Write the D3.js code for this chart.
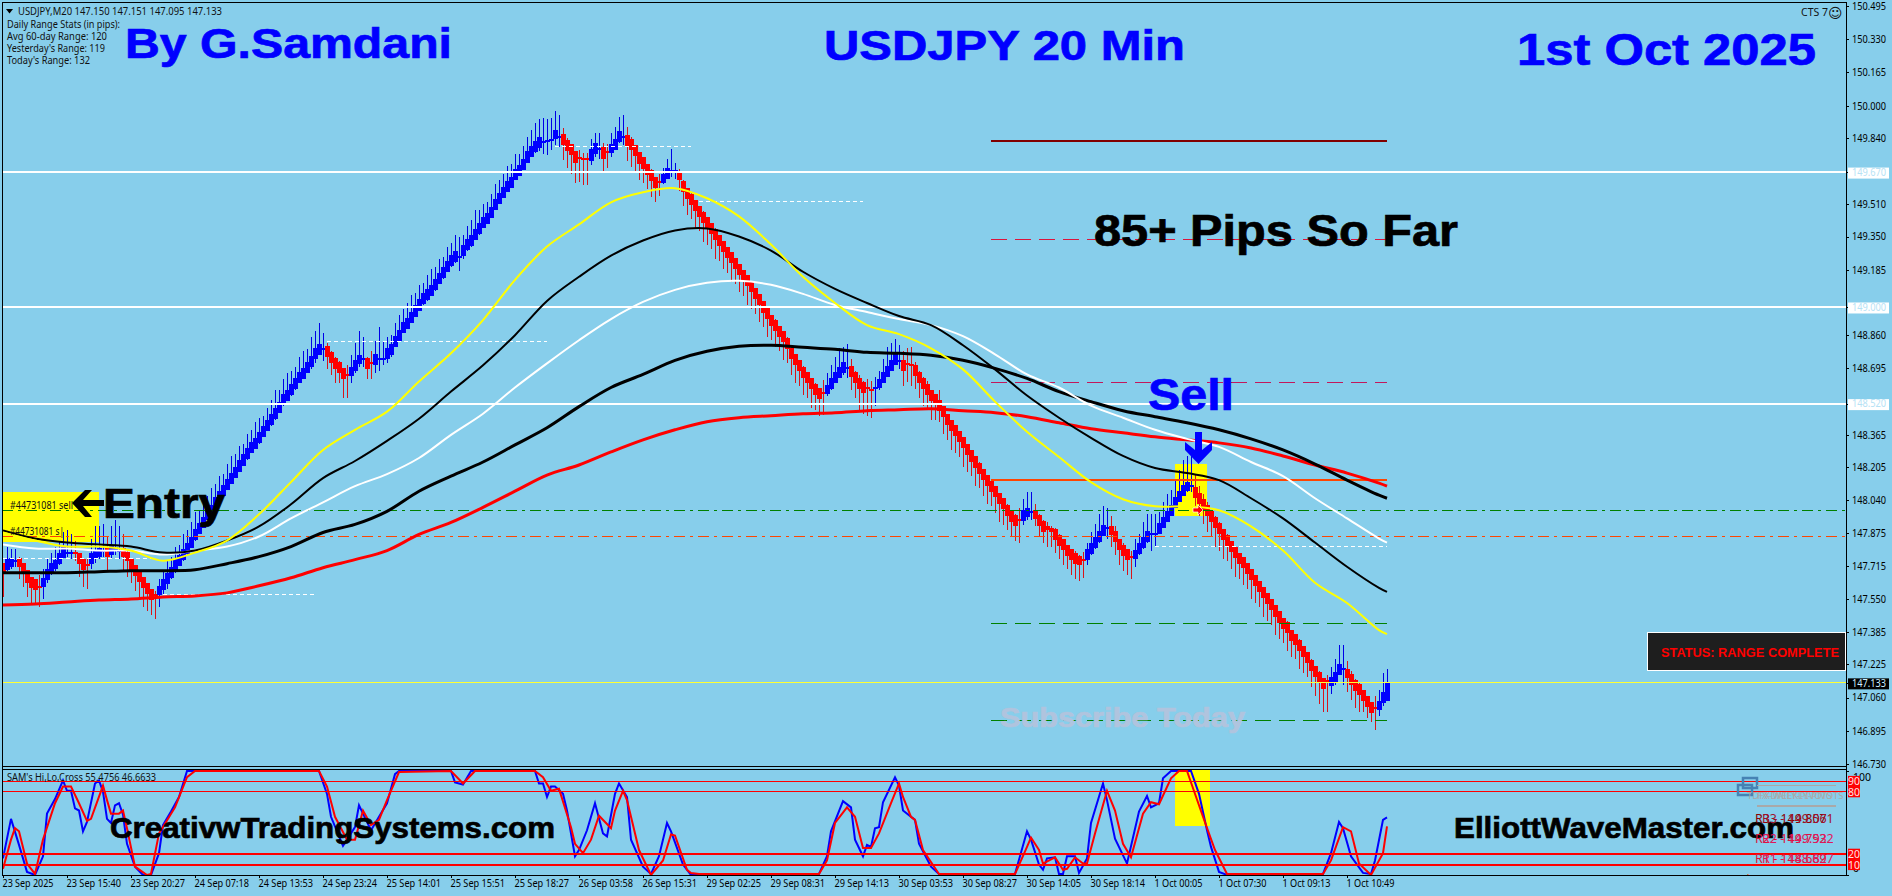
<!DOCTYPE html>
<html><head><meta charset="utf-8">
<style>
html,body{margin:0;padding:0;background:#87ceeb;overflow:hidden}
svg{display:block}
.small{font-family:"Noto Sans",sans-serif;font-size:10.5px;fill:#111}
.big{font-family:"Liberation Sans",Arial,sans-serif;font-weight:bold}
.axis text{font-family:"Noto Sans",sans-serif;font-size:10.5px;fill:#000}
.axis path{stroke:none}
.axis line{stroke:#000;shape-rendering:crispEdges}
</style></head><body>
<script src="https://cdn.jsdelivr.net/npm/d3@7"></script>
<script>
// ---------- data: USDJPY M20 ----------
const barMid=[
147.70,147.72,147.73,147.74,147.73,147.70,147.66,147.63,147.62,147.61,
147.63,147.67,147.70,147.72,147.75,147.78,147.78,147.78,147.78,147.75,
147.72,147.72,147.75,147.77,147.78,147.79,147.78,147.79,147.80,147.79,
147.78,147.76,147.72,147.69,147.66,147.63,147.60,147.57,147.57,147.59,
147.62,147.65,147.68,147.72,147.74,147.77,147.80,147.83,147.87,147.90,
147.93,147.97,147.99,148.03,148.06,148.09,148.12,148.15,148.18,148.21,
148.24,148.27,148.30,148.32,148.35,148.38,148.41,148.44,148.47,148.50,
148.54,148.56,148.59,148.62,148.65,148.67,148.70,148.73,148.77,148.79,
148.79,148.78,148.75,148.72,148.70,148.67,148.66,148.68,148.71,148.74,
148.74,148.72,148.72,148.74,148.74,148.74,148.77,148.79,148.83,148.86,
148.90,148.92,148.95,148.98,149.01,149.04,149.06,149.08,149.11,149.14,
149.17,149.20,149.23,149.25,149.25,149.28,149.31,149.33,149.36,149.39,
149.42,149.44,149.47,149.51,149.54,149.57,149.60,149.62,149.66,149.68,
149.71,149.745,149.77,149.795,149.815,149.82,149.825,149.83,149.855,149.845,
149.83,149.80,149.78,149.745,149.74,149.735,149.735,149.755,149.785,149.785,
149.765,149.77,149.785,149.805,149.845,149.845,149.825,149.805,149.775,149.74,
149.715,149.685,149.655,149.62,149.62,149.64,149.665,149.675,149.675,149.655,
149.60,149.565,149.535,149.505,149.475,149.445,149.42,149.39,149.36,149.33,
149.30,149.27,149.245,149.215,149.185,149.155,149.13,149.10,149.065,149.035,
149.00,148.97,148.935,148.91,148.88,148.855,148.82,148.77,148.74,148.71,
148.675,148.65,148.62,148.59,148.57,148.575,148.59,148.62,148.65,148.675,
148.70,148.695,148.68,148.65,148.62,148.60,148.60,148.59,148.60,148.62,
148.65,148.68,148.71,148.74,148.73,148.71,148.715,148.71,148.685,148.65,
148.62,148.59,148.56,148.54,148.51,148.48,148.44,148.41,148.385,148.355,
148.325,148.29,148.26,148.23,148.20,148.17,148.14,148.11,148.085,148.05,
148.025,147.99,147.96,147.94,147.94,147.965,147.98,147.98,147.97,147.94,
147.91,147.90,147.89,147.87,147.84,147.82,147.79,147.77,147.75,147.74,
147.745,147.77,147.80,147.83,147.86,147.89,147.90,147.89,147.86,147.82,
147.79,147.77,147.76,147.77,147.80,147.83,147.86,147.87,147.87,147.90,
147.93,147.96,147.99,148.03,148.06,148.09,148.11,148.11,148.08,148.05,
148.02,147.99,147.96,147.93,147.90,147.87,147.84,147.81,147.78,147.75,
147.73,147.70,147.67,147.64,147.61,147.58,147.55,147.52,147.49,147.46,
147.43,147.41,147.37,147.35,147.32,147.29,147.26,147.22,147.19,147.16,
147.13,147.14,147.14,147.16,147.20,147.20,147.18,147.15,147.12,147.10,
147.07,147.04,147.01,147.01,147.02,147.06,147.09];
// signed body size in 0.01 yen: plus = rising bar, minus = falling bar
const barBody=[
-4,4,3,1,-3,-4,-5,-4,-4,-1,
3,4,4,3,4,4,1,1,-1,-4,
-4,-1,4,3,3,1,-3,3,2,1,
-3,-3,-4,-4,-4,-4,-4,-4,-1,3,
4,4,4,4,4,4,4,4,4,4,
4,4,4,4,4,4,4,4,4,4,
4,4,4,4,4,4,4,4,4,4,
4,4,4,4,4,4,4,4,4,4,
1,-4,-4,-4,-4,-4,-1,3,4,3,
1,-4,-1,4,1,1,4,4,4,4,
4,4,4,4,4,4,4,4,4,4,
4,4,4,4,1,4,4,4,4,4,
4,4,4,4,4,4,4,4,4,4,
4,4,4,4,4,1,1,1,3,1,
-4,-4,-4,-4,-1,-1,-1,4,4,1,
-4,-1,3,4,4,1,-4,-4,-4,-4,
-4,-4,-4,-4,-1,3,4,1,1,-3,
-4,-4,-4,-4,-4,-4,-4,-4,-4,-4,
-4,-4,-4,-4,-4,-4,-4,-4,-4,-4,
-4,-4,-4,-4,-4,-4,-4,-4,-4,-4,
-4,-4,-4,-4,-4,-1,3,4,4,4,
4,1,-4,-4,-4,-4,-1,-1,1,3,
4,4,4,4,1,-4,-1,-1,-4,-4,
-4,-4,-4,-4,-4,-4,-4,-4,-4,-4,
-4,-4,-4,-4,-4,-4,-4,-4,-4,-4,
-4,-4,-4,-4,-1,4,3,1,-3,-4,
-4,-2,-2,-4,-4,-4,-4,-4,-4,-3,
-1,4,4,4,4,4,1,-3,-4,-4,
-4,-4,-1,3,4,4,4,1,1,4,
4,4,4,4,4,4,3,1,-4,-4,
-4,-4,-4,-4,-4,-4,-4,-4,-4,-4,
-4,-4,-4,-4,-4,-4,-4,-4,-4,-4,
-4,-4,-4,-4,-4,-4,-4,-4,-4,-4,
-4,-1,3,4,4,1,-3,-4,-4,-4,
-4,-4,-4,-1,3,4,8];
const barWickUp=[
3,9,7,6,3,2,2,2,3,6,
7,8,8,9,9,10,11,9,6,3,
3,3,10,14,13,13,8,12,14,12,
9,4,3,3,2,2,2,3,2,6,
7,9,8,9,8,10,9,10,11,9,
10,9,11,9,10,8,10,11,9,10,
8,10,9,11,10,8,9,10,12,9,
10,11,9,8,10,11,9,12,11,13,
8,4,3,3,3,2,5,8,11,14,
11,3,6,9,16,9,8,7,9,10,
9,10,11,9,10,8,10,11,9,10,
8,10,9,11,10,8,9,10,12,9,
9,8,9,10,9,9,10,9,10,8,
9,10,11,12,12,12,11,11,12,11,
6,4,3,3,4,3,3,8,8,8,
5,4,8,9,10,11,7,4,3,3,
2,2,3,2,4,5,7,11,4,3,
3,2,3,2,2,3,2,2,3,2,
2,3,2,2,3,2,2,3,2,2,
3,2,2,3,2,2,3,3,2,2,
3,2,2,3,3,6,8,9,10,12,
10,12,6,3,4,3,4,4,5,6,
9,12,11,10,8,7,8,9,4,3,
3,4,3,3,8,2,2,3,2,2,
2,3,2,2,3,2,2,3,2,2,
2,3,2,3,6,8,10,10,5,3,
3,3,2,3,3,2,3,2,4,3,
4,6,8,9,11,12,10,7,5,3,
4,3,3,8,7,10,11,10,10,8,
10,11,10,11,13,15,15,16,9,6,
5,4,3,3,3,2,3,2,2,3,
2,2,3,2,2,3,2,2,3,2,
2,3,2,2,3,2,2,3,2,3,
2,3,7,9,12,12,6,4,3,3,
3,2,2,6,8,12,11];
const barWickDown=[
14,3,3,3,8,9,10,11,10,10,
8,4,3,3,3,2,2,3,4,9,
11,12,5,4,3,3,9,4,3,4,
9,10,9,10,11,12,11,10,12,8,
5,5,3,4,2,3,3,2,3,2,
3,2,2,3,2,3,2,2,3,2,
3,3,2,2,3,2,2,3,3,2,
3,2,3,3,2,3,2,4,5,3,
6,9,9,10,8,12,11,6,4,4,
4,8,8,7,6,3,5,4,3,3,
3,2,3,3,2,3,3,2,3,2,
3,2,3,3,7,4,3,3,2,3,
2,3,2,2,3,2,3,2,2,3,
2,3,2,3,4,6,7,5,5,5,
10,11,12,13,12,13,13,5,4,5,
9,8,4,2,3,4,10,11,10,11,
10,10,11,10,7,3,3,3,4,8,
10,11,10,12,10,12,11,10,12,10,
11,10,12,10,11,10,12,11,10,11,
10,12,10,11,10,12,10,11,12,10,
11,10,12,10,11,11,3,3,2,3,
4,5,9,10,13,13,14,14,9,3,
3,3,2,3,4,10,9,10,9,10,
11,10,12,10,8,11,10,12,11,10,
12,11,10,12,10,11,12,10,11,12,
11,10,10,10,11,5,4,4,6,8,
8,9,8,9,9,10,9,10,10,10,
9,5,3,3,3,2,5,8,9,10,
10,10,11,6,3,3,3,8,6,3,
2,3,3,2,3,2,3,3,8,9,
10,11,10,12,11,12,10,11,12,10,
11,10,12,11,10,12,11,10,12,11,
10,12,11,10,12,11,10,11,12,13,
14,15,6,4,3,8,9,10,11,11,
8,8,7,11,5,4,3];

// moving averages, read every eighth bar (last reading at the last bar)
const maBars=[0,8,16,24,32,40,48,56,64,72,80,88,96,104,112,120,128,136,144,152,160,168,176,184,192,200,208,216,224,232,240,248,256,264,272,280,288,296,304,312,320,328,336,344,346];
const maYellow=[147.88,147.84,147.81,147.81,147.79,147.74,147.78,147.84,147.97,148.13,148.29,148.39,148.48,148.63,148.77,148.935,149.135,149.30,149.41,149.52,149.57,149.59,149.54,149.45,149.31,149.15,149.02,148.91,148.865,148.795,148.69,148.53,148.38,148.255,148.13,148.045,148.01,148.01,147.99,147.91,147.79,147.63,147.53,147.395,147.375];
const maBlackFast=[147.89,147.85,147.83,147.82,147.81,147.78,147.79,147.84,147.91,148.02,148.15,148.235,148.335,148.445,148.58,148.71,148.86,149.03,149.15,149.255,149.33,149.38,149.39,149.35,149.28,149.175,149.09,149.02,148.955,148.91,148.81,148.69,148.56,148.45,148.35,148.26,148.20,148.175,148.14,148.05,147.95,147.83,147.71,147.605,147.585];
const maWhite=[147.82,147.80,147.80,147.79,147.79,147.77,147.79,147.81,147.86,147.95,148.03,148.11,148.17,148.25,148.365,148.47,148.60,148.72,148.835,148.94,149.025,149.085,149.12,149.13,149.11,149.065,149.01,148.975,148.94,148.91,148.855,148.765,148.665,148.60,148.51,148.45,148.39,148.345,148.305,148.23,148.16,148.05,147.95,147.85,147.83];
const maBlackSlow=[147.68,147.68,147.68,147.685,147.69,147.69,147.695,147.725,147.76,147.81,147.88,147.92,147.985,148.085,148.16,148.23,148.315,148.40,148.505,148.60,148.665,148.735,148.78,148.805,148.81,148.80,148.79,148.775,148.77,148.76,148.735,148.695,148.645,148.58,148.53,148.485,148.455,148.425,148.39,148.345,148.29,148.22,148.14,148.065,148.05];
const maRed=[147.52,147.525,147.535,147.545,147.55,147.56,147.565,147.58,147.615,147.655,147.705,147.745,147.79,147.87,147.93,148.005,148.085,148.165,148.215,148.28,148.34,148.39,148.43,148.45,148.46,148.47,148.475,148.485,148.49,148.495,148.485,148.475,148.455,148.425,148.395,148.375,148.355,148.34,148.325,148.30,148.26,148.215,148.175,148.125,148.11];

// SAM's Hi,Lo,Cross oscillator readings
const hiLoBars=[0,2,4,6,8,10,11,13,15,16,17,18,19,20,21,23,24,25,26,27,28,29,30,31,33,35,37,39,40,42,44,46,79,81,82,85,88,89,90,92,94,96,98,99,112,113,115,117,133,134,135,136,137,138,140,141,143,144,146,148,150,151,153,154,156,157,160,162,164,166,167,170,172,174,204,206,207,210,212,213,215,216,217,218,219,220,223,224,225,228,229,232,234,253,256,257,259,260,261,263,264,265,266,268,269,271,272,275,276,278,281,284,286,287,289,290,292,297,299,301,302,304,306,330,332,334,335,337,340,342,343,345,346];
const hiLoFast=[16,54,29,3,0,18,59,73,91,81,81,64,62,42,51,88,91,80,54,50,67,69,58,30,8,0,0,21,48,61,75,100,100,78,56,28,46,67,59,43,56,69,97,100,100,89,87,100,100,88,88,75,85,85,78,62,18,24,43,69,40,37,78,88,75,34,8,1,18,50,42,10,0,1,1,18,42,71,65,34,18,29,27,45,46,70,94,86,62,53,30,8,1,1,42,34,10,5,16,17,1,1,18,18,2,16,50,88,72,35,11,61,76,65,69,93,100,100,78,43,27,3,0,1,21,51,45,18,2,1,14,53,55.48];
const sigBars=[0,2,3,4,6,8,10,13,15,17,19,21,22,25,26,27,29,30,31,33,36,37,39,43,46,48,79,81,83,86,88,90,92,94,96,99,112,115,118,133,135,137,139,142,143,145,147,149,152,153,155,156,159,162,165,167,168,171,172,174,204,206,208,211,213,215,217,219,222,224,225,227,228,230,234,253,256,257,259,260,263,265,266,268,270,271,273,276,278,280,282,285,287,289,292,294,296,300,303,306,330,332,335,337,339,342,345,346];
const sigSlow=[6,34,45,42,11,1,34,69,85,85,69,52,54,86,72,59,59,62,45,8,0,1,40,65,94,100,100,85,56,34,34,62,48,53,72,99,100,88,100,100,94,81,83,46,30,21,34,57,45,62,81,72,24,0,14,39,38,5,2,1,1,14,50,65,56,26,26,40,69,88,75,56,53,24,1,1,27,36,24,11,17,5,6,17,11,11,40,81,62,30,17,59,70,68,93,100,100,56,24,1,1,14,46,42,11,0,21,46.66];
const hiLoLevels=[90,80,20,10];

// price levels
const whiteLevels=[149.67,149.00,148.52];
const pivotR3=149.825, pivotR2=149.335, pivotR1=148.625, entryLevel=148.14, pivotS1=147.43, pivotS2=146.945;
const tradeGreen=147.99, tradeOrange=147.86, lastPrice=147.133;
const dashLevels=[149.795,149.525,148.83,147.81,147.57,147.75];
const dashFrom=[138,174,81,288,40,0];
const dashTo=[172,215,136,346,78,38];

// axes
const priceTicks=[150.495,150.33,150.165,150,149.84,149.51,149.35,149.185,148.86,148.695,148.365,148.205,148.04,147.875,147.715,147.55,147.385,147.225,147.06,146.895,146.73];
const boxedTicks=[149.67,149.00,148.52];
const timeTickLabels=["23 Sep 2025","23 Sep 15:40","23 Sep 20:27","24 Sep 07:18","24 Sep 13:53","24 Sep 23:24","25 Sep 14:01","25 Sep 15:51","25 Sep 18:27","26 Sep 03:58","26 Sep 15:31","29 Sep 02:25","29 Sep 08:31","29 Sep 14:13","30 Sep 03:53","30 Sep 08:27","30 Sep 14:05","30 Sep 18:14","1 Oct 00:05","1 Oct 07:30","1 Oct 09:13","1 Oct 10:49"];
const timeTickBars=[0,16,32,48,64,80,96,112,128,144,160,176,192,208,224,240,256,272,288,304,320,336];

// ---------- drawing ----------
const W=1892,H=896,L=2,R=1846;
const svg=d3.select("body").append("svg").attr("width",W).attr("height",H);
svg.append("rect").attr("width",W).attr("height",H).attr("fill","#87ceeb");
const x=d3.scaleLinear().domain([0,346]).range([3,1387]);
const y=d3.scaleLinear().domain([146.73,150.495]).range([764,6]);
const yo=d3.scaleLinear().domain([0,100]).range([875,771]);
const barW=x(1)-x(0)+1;
const defs=svg.append("defs");
defs.append("clipPath").attr("id","mainClip").append("rect").attr("x",L).attr("y",2).attr("width",R-L).attr("height",765);
defs.append("clipPath").attr("id","subClip").append("rect").attr("x",L).attr("y",769).attr("width",R-L+50).attr("height",106);

// yellow highlight objects
const yHL=(x0,x1,y0,y1,g)=>g.append("rect").attr("x",x0).attr("y",y0).attr("width",x1-x0).attr("height",y1-y0).attr("fill","#ffff00");
yHL(3,99,492,542,svg);
yHL(1175,1207,464,516,svg);
yHL(1175,1210,770,826,svg);

const main=svg.append("g").attr("clip-path","url(#mainClip)");
// candles
const bars=barMid.map((m,i)=>({i,m,b:barBody[i],hi:m+barWickUp[i]/100,lo:m-barWickDown[i]/100,half:Math.abs(barBody[i])/200+(Math.abs(barBody[i])>=3?.0075:0)}));
main.append("g").attr("shape-rendering","crispEdges").selectAll("line").data(bars).join("line")
  .attr("x1",d=>Math.round(x(d.i))+.5).attr("x2",d=>Math.round(x(d.i))+.5)
  .attr("y1",d=>y(d.hi)).attr("y2",d=>y(d.lo))
  .attr("stroke",d=>d.b>0?"#0000e6":"#d8141a").attr("stroke-width",1);
main.append("g").attr("shape-rendering","crispEdges").selectAll("rect").data(bars).join("rect")
  .attr("x",d=>Math.round(x(d.i))-2).attr("width",barW)
  .attr("y",d=>y(d.m+d.half)).attr("height",d=>y(d.m-d.half)-y(d.m+d.half))
  .attr("fill",d=>d.b>0?"#0000ff":"#ff0000");

// horizontal levels
const hline=(g,p,a,b,col,sw,dash,xs)=>g.append("line").attr("x1",a).attr("x2",b)
  .attr("y1",(xs||y)(p)).attr("y2",(xs||y)(p)).attr("stroke",col).attr("stroke-width",sw).attr("stroke-dasharray",dash||null).attr("shape-rendering","crispEdges");
const levX0=x(247), levX1=x(346);
whiteLevels.forEach(p=>hline(main,p,L,R,"#ffffff",2));
hline(main,pivotR3,levX0,levX1,"#800000",2);
hline(main,pivotR2,levX0,levX1,"#dc143c",1,"16 8 ");
hline(main,pivotR1,levX0,levX1,"#c2185b",1,"16 8");
hline(main,entryLevel,levX0,levX1,"#ff4500",2);
hline(main,pivotS1,levX0,levX1,"#008000",1,"16 8");
hline(main,pivotS2,levX0,levX1,"#008000",1,"16 8");
hline(main,tradeGreen,L,R,"#008000",1,"11 5 3 5");
hline(main,tradeOrange,L,R,"#ff4500",1,"11 5 3 5");
hline(main,lastPrice,L,R,"#ffff33",1);
dashLevels.forEach((p,i)=>hline(main,p,x(dashFrom[i]),x(dashTo[i]),"#ffffff",1,"4 3"));

// moving averages
const maLine=d3.line().x((d,i)=>x(maBars[i])).y(d=>y(d)).curve(d3.curveCatmullRom.alpha(.5));
const maDefs=[[maRed,"#ff0000",3],[maBlackSlow,"#000000",3],[maWhite,"#ffffff",2],[maBlackFast,"#000000",2],[maYellow,"#ffff00",2]];
maDefs.forEach(([s,c,w])=>main.append("path").attr("d",maLine(s)).attr("fill","none").attr("stroke",c).attr("stroke-width",w));

// main panel texts
const tx=(g,t,px,py,size,col,len)=>g.append("text").attr("x",px).attr("y",py).attr("font-size",size).attr("fill",col).attr("class","big")
  .attr("textLength",len).attr("lengthAdjust","spacingAndGlyphs").attr("stroke",col).attr("stroke-width",.7).text(t);
tx(svg,"By G.Samdani",125,58,43,"#0000ff",327);
tx(svg,"USDJPY 20 Min",824,60,43,"#0000ff",361);
tx(svg,"1st Oct 2025",1517,65,44,"#0000ff",299);
tx(svg,"85+ Pips So Far",1094,246,44,"#000000",364);
tx(svg,"Sell",1148,410,44,"#0000ff",86);
tx(svg,"Entry",103,518,43,"#000000",122);
tx(svg,"Subscribe Today",1000,727,28,"#b0c4de",245);
// arrows
svg.append("path").attr("d","M72 503L85 490H92L83 500H104V506H83L92 517H85Z").attr("fill","#000");
svg.append("path").attr("d","M1195 432H1202V450L1212 442V450L1198.5 464L1185 450V442L1195 450Z").attr("fill","#0000ff");
// small red trade arrow
svg.append("path").attr("d","M1193 508h5v-3l5 5-5 5v-3h-5z").attr("fill","#ff0000").attr("stroke","#ffffff").attr("stroke-width",.7);

svg.append("path").attr("d","M6 9h7l-3.5 4.5z").attr("fill","#000");
const sm=(t,px,py,len)=>{const n=svg.append("text").attr("class","small").attr("x",px).attr("y",py).text(t);
  if(len)n.attr("textLength",len).attr("lengthAdjust","spacingAndGlyphs");return n;};
sm("USDJPY,M20  147.150 147.151 147.095 147.133",18,15,204);
sm("Daily Range Stats (in pips):",7,28,113);
sm("Avg 60-day Range: 120",7,40,100);
sm("Yesterday's Range: 119",7,52,98);
sm("Today's Range: 132",7,64,83);
sm("CTS 7",1801,16);
svg.append("text").attr("x",1828).attr("y",18).attr("font-family","DejaVu Sans").attr("font-size",14).attr("fill","#111").text("☺");
sm("#44731081 sell",10,509,63);
sm("#44731081 s|",10,535,54);

// status panel
svg.append("rect").attr("x",1647.5).attr("y",632.5).attr("width",198).attr("height",38).attr("fill","#1e1e1e").attr("stroke","#ffffff");
svg.append("text").attr("x",1661).attr("y",657).attr("font-family","Liberation Sans").attr("font-weight","bold").attr("font-size",12.5).attr("fill","#ff0000")
  .attr("textLength",178).attr("lengthAdjust","spacingAndGlyphs").text("STATUS: RANGE COMPLETE");

// oscillator
const sub=svg.append("g").attr("clip-path","url(#subClip)");
hline(svg,90,L,R,"#ff0000",1,null,yo);hline(svg,80,L,R,"#ff0000",1,null,yo);
hline(svg,20,L,R,"#ff0000",2,null,yo);hline(svg,10,L,R,"#ff0000",2,null,yo);
const hl1=d3.line().x((d,i)=>x(hiLoBars[i])).y(d=>yo(d));
const hl2=d3.line().x((d,i)=>x(sigBars[i])).y(d=>yo(d));
sub.append("path").attr("d",hl1(hiLoFast)).attr("fill","none").attr("stroke","#0000ff").attr("stroke-width",2);
sub.append("path").attr("d",hl2(sigSlow)).attr("fill","none").attr("stroke","#ff0000").attr("stroke-width",2);
sm("SAM's Hi,Lo,Cross 55.4756 46.6633",7,781,149);
tx(svg,"CreativwTradingSystems.com",110,838,30,"#000000",445);
tx(svg,"ElliottWaveMaster.com",1454,838,30,"#000000",340);

// pivots overlay
[[1743,778],[1738,785]].forEach(p=>svg.append("rect").attr("x",p[0]).attr("y",p[1]).attr("width",14).attr("height",10).attr("fill","none").attr("stroke","#4682b4").attr("stroke-width",2.5));
svg.append("line").attr("x1",1757).attr("x2",1836).attr("y1",785.5).attr("y2",785.5).attr("stroke","#a9a9a9");
svg.append("line").attr("x1",1757).attr("x2",1836).attr("y1",806).attr("y2",806).attr("stroke","#a9a9a9").attr("stroke-width",2);
const pv=(t,px,py,c,g)=>(g||svg).append("text").attr("x",px).attr("y",py).attr("font-family","Noto Sans").attr("font-size",12.5).attr("fill",c).text(t);
[["TDFX-WEEKLY-PIVOTS",1747],["FX-DAILY-PIVOTS",1757]].forEach(d=>svg.append("text").attr("x",d[1]).attr("y",799).attr("font-family","Noto Sans").attr("font-size",9.5).attr("fill","#a9a9a9").text(d[0]));
pv("R3 - 149.807",1755,823,"#8b0000");pv("R3 - 149.561",1762,823,"#a0102a");
pv("R2 - 149.792",1755,843,"#dc143c");pv("R2 - 149.532",1762,843,"#e0185c");
pv("R1 - 148.689",1755,863,"#dc143c");pv("R1 - 148.627",1762,863,"#e0185c");
pv("Pivot - 147.433",1739,884,"#ff4500",sub);

// axes
const px=svg.append("g").attr("class","axis").attr("transform",`translate(${R},0)`)
  .call(d3.axisRight(y).tickValues(priceTicks.concat(boxedTicks,[lastPrice])).tickSize(3).tickPadding(3).tickFormat(d3.format(".3f")));
px.selectAll("text").attr("textLength",34).attr("lengthAdjust","spacingAndGlyphs");
px.selectAll(".tick").filter(d=>boxedTicks.includes(d)||d===lastPrice).each(function(d){
  const g=d3.select(this),t=g.select("text");
  const last=d===lastPrice;
  g.insert("rect","text").attr("x",2).attr("y",-5).attr("width",41).attr("height",11).attr("fill",last?"#000":"#fff");
  t.style("fill",last?"#cfefff":"#b5e2f5");
});
svg.append("g").attr("class","axis").attr("transform",`translate(${R},0)`)
  .call(d3.axisRight(yo).tickValues([100,0]).tickSize(3).tickPadding(4).tickFormat(d=>d))
  .selectAll("text").attr("dy",d=>d===100?"0.95em":"-0.3em");
hiLoLevels.forEach(v=>{
  svg.append("rect").attr("x",1848).attr("y",yo(v)-5.5).attr("width",12).attr("height",11).attr("fill","#ff0000");
  svg.append("text").attr("x",1854).attr("y",yo(v)+4).attr("text-anchor","middle").attr("font-family","Noto Sans").attr("font-size",10.5).attr("fill","#ffe0e0").text(v);
});
const tAxis=svg.append("g").attr("class","axis").attr("transform","translate(0,875)")
  .call(d3.axisBottom(x).tickValues(timeTickBars).tickSize(3).tickPadding(2).tickFormat((d,i)=>timeTickLabels[i]));
tAxis.selectAll("text").attr("text-anchor","start").attr("dx",-1)
  .attr("textLength",(d,i)=>timeTickLabels[i].startsWith("1 Oct")?48:timeTickLabels[i].endsWith("2025")?51:54.5)
  .attr("lengthAdjust","spacingAndGlyphs");

// frame
const fr=(x1,y1,x2,y2)=>svg.append("line").attr("x1",x1).attr("y1",y1).attr("x2",x2).attr("y2",y2).attr("stroke","#000").attr("stroke-width",1).attr("shape-rendering","crispEdges");
fr(L,2,R,2);fr(L,2,L,875);fr(R,2,R,875);fr(L,766,R,766);fr(L,769,R,769);fr(L,875,R,875);
</script>
</body></html>
